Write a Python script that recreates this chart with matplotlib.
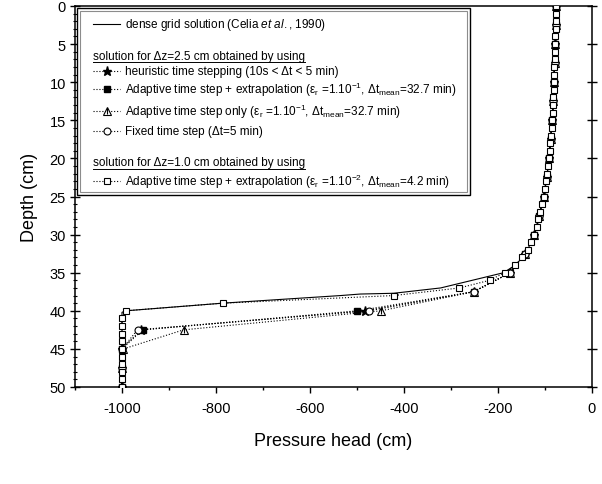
import matplotlib
matplotlib.use('Agg')
import matplotlib.pyplot as plt
from matplotlib.lines import Line2D
from matplotlib.patches import Rectangle
from matplotlib.ticker import MultipleLocator
import numpy as np

plt.rcParams['font.family'] = ['Liberation Sans', 'DejaVu Sans']
plt.rcParams['mathtext.fontset'] = 'custom'
plt.rcParams['mathtext.rm'] = 'Liberation Sans'
plt.rcParams['mathtext.it'] = 'Liberation Sans:italic'
plt.rcParams['mathtext.sf'] = 'Liberation Sans'
plt.rcParams['axes.unicode_minus'] = False

# dense grid solution (Celia et al., 1990)
dense_h = [-76, -77, -78.5, -80, -81, -83, -85, -87.5, -90, -92, -95, -97.5, -100, -103, -106, -111,
           -114, -117, -123, -130, -137, -148, -163, -188, -322, -422, -493, -535, -786, -992, -1000, -1000]
dense_z = [0, 2, 5, 8, 10, 13, 15, 17, 19, 20, 22, 23, 24, 25, 26, 27,
           28, 29, 30, 31, 32, 33, 34, 35, 37.0, 37.7, 37.8, 38.0, 39, 40, 40.2, 50]

# dz = 2.5 cm solutions
z25 = np.arange(0, 50.1, 2.5)
upper25 = [-76, -77.5, -78.5, -79.5, -81, -82.5, -85, -88, -92, -96, -103, -112, -123, -142, -174, -252]
h_heuristic = upper25 + [-484, -960, -1000, -1000, -1000]
h_adapt_extrap = upper25 + [-499, -956, -1000, -1000, -1000]
h_adapt_only = upper25 + [-449, -869, -997, -1000, -1000]
h_fixed = upper25 + [-474, -967, -1000, -1000, -1000]

# dz = 1.0 cm solution
z10 = np.arange(0, 51, 1)
h_dz1 = [-76, -76.5, -77, -77.5, -78, -78.5, -79, -79.5, -80, -80.5,
         -81, -81.5, -82.5, -83, -84, -85, -86, -87.5, -89, -90,
         -92, -93.5, -95, -97.5, -100, -103, -106, -111, -114, -117,
         -123, -130, -137, -148, -163, -186, -218, -282, -422, -786,
         -992, -1000, -1000, -1000, -1000, -1000, -1000, -1000, -1000, -1000, -1000]

fig = plt.figure(figsize=(6.02, 4.85), dpi=100)
ax = fig.add_axes([75 / 602, 97 / 485, 517 / 602, 381 / 485])

dot = dict(color='black', linestyle=':', linewidth=0.8)
ax.plot(dense_h, dense_z, '-', color='black', linewidth=0.8, zorder=2)
ax.plot(h_heuristic, z25, marker='*', markersize=6.5, mfc='black', mec='black', **dot, zorder=3)
ax.plot(h_adapt_extrap, z25, marker='s', markersize=5, mfc='black', mec='black', **dot, zorder=3)
ax.plot(h_adapt_only, z25, marker='^', markersize=6, mfc='white', mec='black', mew=0.8, **dot, zorder=3)
ax.plot(h_adapt_only, z25, linestyle='none', marker='|', markersize=4, mec='black', mew=0.8, zorder=3)
ax.plot(h_fixed, z25, marker='o', markersize=5, mfc='white', mec='black', mew=0.8, **dot, zorder=3)
ax.plot(h_dz1, z10, marker='s', markersize=5, mfc='white', mec='black', mew=0.8, **dot, zorder=4)

ax.set_xlim(-1100, 0)
ax.set_ylim(50, 0)
ax.xaxis.set_major_locator(MultipleLocator(200))
ax.xaxis.set_minor_locator(MultipleLocator(100))
ax.yaxis.set_major_locator(MultipleLocator(5))
ax.yaxis.set_minor_locator(MultipleLocator(1))
ax.tick_params(axis='x', which='major', direction='out', length=4, width=1, labelsize=10.5, pad=6)
ax.tick_params(axis='x', which='minor', direction='out', length=2.5, width=1)
ax.tick_params(axis='y', which='major', direction='inout', length=7, width=1, labelsize=10.5,
               right=True, pad=3)
ax.tick_params(axis='y', which='minor', direction='inout', length=3.5, width=0.8)
ax.tick_params(axis='y', which='minor', right=False)
for s in ax.spines.values():
    s.set_linewidth(1.1)
ax.set_xlabel('Pressure head (cm)', fontsize=13, labelpad=12)
ax.set_ylabel('Depth (cm)', fontsize=13, labelpad=8)


# legend drawn by hand (pixel layout converted to axes fraction)
def fx(x):
    return (x - 75) / 517


def fy(y):
    return (388 - y) / 381


ax.add_patch(Rectangle((fx(77), fy(196)), fx(470) - fx(77), fy(9) - fy(196), transform=ax.transAxes,
                       fill=True, facecolor='white', edgecolor='black', linewidth=1, zorder=5))
ax.add_patch(Rectangle((fx(80), fy(193)), fx(467) - fx(80), fy(12) - fy(193), transform=ax.transAxes,
                       fill=False, edgecolor='0.55', linewidth=0.8, zorder=5))

fs = 8.5
entries = [
    (25, dict(linestyle='-'), r'dense grid solution (Celia $\it{et\ al.}$, 1990)'),
    (71.7, dict(linestyle=':', marker='*', markersize=6.5, mfc='black'), 'heuristic time stepping (10s < Δt < 5 min)'),
    (90, dict(linestyle=':', marker='s', markersize=5, mfc='black'),
     r'Adaptive time step + extrapolation (ε$_{\mathrm{r}}$ =1.10$^{\mathrm{-1}}$, Δt$_{\mathrm{mean}}$=32.7 min)'),
    (111.7, dict(linestyle=':', marker='^', markersize=6, mfc='white', mew=0.8),
     r'Adaptive time step only (ε$_{\mathrm{r}}$ =1.10$^{\mathrm{-1}}$, Δt$_{\mathrm{mean}}$=32.7 min)'),
    (132.3, dict(linestyle=':', marker='o', markersize=5, mfc='white', mew=0.8), 'Fixed time step (Δt=5 min)'),
    (181.7, dict(linestyle=':', marker='s', markersize=5, mfc='white', mew=0.8),
     r'Adaptive time step + extrapolation (ε$_{\mathrm{r}}$ =1.10$^{\mathrm{-2}}$, Δt$_{\mathrm{mean}}$=4.2 min)'),
]
for y, style, label in entries:
    ax.add_line(Line2D([fx(93), fx(120)], [fy(y), fy(y)], color='black', linewidth=0.8,
                       transform=ax.transAxes, zorder=6, linestyle=style.get('linestyle')))
    if 'marker' in style:
        ax.add_line(Line2D([fx(106.5)], [fy(y)], linestyle='none', marker=style['marker'],
                           markersize=style['markersize'], mfc=style['mfc'], mec='black',
                           mew=style.get('mew', 1), transform=ax.transAxes, zorder=7))
        if style['marker'] == '^':
            ax.add_line(Line2D([fx(106.5)], [fy(y)], linestyle='none', marker='|', markersize=4,
                               mec='black', mew=0.8, transform=ax.transAxes, zorder=7))
    ax.text(fx(125), fy(y), label, transform=ax.transAxes, fontsize=fs, va='center', ha='left', zorder=7)

headers = []
for y, label in [(56.7, 'solution for Δz=2.5 cm obtained by using'),
                 (163.3, 'solution for Δz=1.0 cm obtained by using')]:
    headers.append(ax.text(fx(93), fy(y), label, transform=ax.transAxes, fontsize=fs,
                           va='center', ha='left', zorder=7))

fig.canvas.draw()
inv = ax.transAxes.inverted()
for t in headers:
    bb = t.get_window_extent()
    (x0, y0), (x1, y1) = inv.transform([(bb.x0, bb.y0), (bb.x1, bb.y0)])
    ax.add_line(Line2D([x0, x1], [y0 - 0.002, y1 - 0.002], color='black', linewidth=0.7,
                       transform=ax.transAxes, zorder=7))

fig.savefig('out.png', dpi=100)
